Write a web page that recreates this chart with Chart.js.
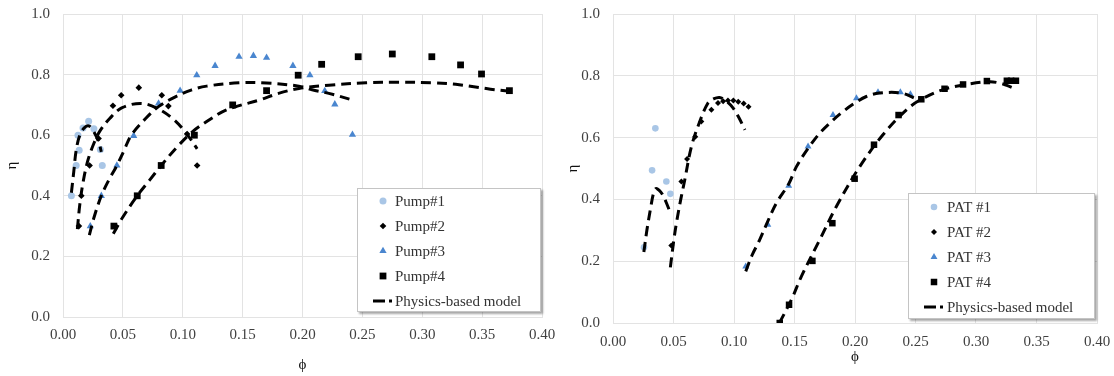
<!DOCTYPE html>
<html>
<head>
<meta charset="utf-8">
<script src="https://cdn.jsdelivr.net/npm/chart.js@4.4.1/dist/chart.umd.min.js"></script>
<style>
  html, body { margin: 0; padding: 0; background: #fff; }
  #wrap { position: relative; width: 1114px; height: 376px; }
  .panel { position: absolute; top: 0; width: 557px; height: 376px; }
</style>
</head>
<body>
<div id="wrap">
  <div class="panel" style="left:0"><canvas id="pump-chart"></canvas></div>
  <div class="panel" style="left:557px"><canvas id="pat-chart"></canvas></div>
</div>
<script>
/* ---------- axis ticks ---------- */
const PHI_TICKS = [0, 0.05, 0.10, 0.15, 0.20, 0.25, 0.30, 0.35, 0.40];
const ETA_TICKS = [0, 0.2, 0.4, 0.6, 0.8, 1.0];

/* ---------- pump mode: measured points [phi, eta] ---------- */
const PUMP1 = [[0.007,0.40],[0.011,0.50],[0.0135,0.55],[0.0125,0.60],[0.0167,0.624],[0.0214,0.646],[0.0258,0.621],[0.0312,0.553],[0.0328,0.50]];
const PUMP2 = [[0.0133,0.30],[0.0153,0.40],[0.0222,0.50],[0.0297,0.589],[0.0417,0.697],[0.0486,0.732],[0.0633,0.757],[0.0825,0.732],[0.088,0.696],[0.1037,0.604],[0.112,0.50]];
const PUMP3 = [[0.0228,0.30],[0.032,0.40],[0.045,0.50],[0.059,0.598],[0.0798,0.705],[0.0978,0.747],[0.1117,0.798],[0.127,0.829],[0.147,0.859],[0.159,0.862],[0.170,0.856],[0.192,0.829],[0.2062,0.798],[0.2186,0.746],[0.227,0.702],[0.2417,0.602]];
const PUMP4 = [[0.0425,0.30],[0.062,0.40],[0.082,0.50],[0.1097,0.60],[0.1417,0.70],[0.170,0.747],[0.1964,0.798],[0.216,0.834],[0.2465,0.859],[0.275,0.868],[0.308,0.859],[0.332,0.832],[0.3495,0.802],[0.3728,0.747]];

/* ---------- pump mode: physics-based model curves ---------- */
const PUMP1_MODEL = [[0.007,0.41],[0.009,0.48],[0.011,0.55],[0.014,0.60],[0.018,0.625],[0.022,0.63],[0.026,0.61],[0.030,0.575],[0.032,0.545]];
const PUMP2_MODEL = [[0.012,0.29],[0.014,0.37],[0.017,0.45],[0.021,0.52],[0.026,0.575],[0.031,0.615],[0.039,0.655],[0.049,0.69],[0.065,0.705],[0.079,0.688],[0.093,0.65],[0.103,0.606],[0.112,0.555]];
const PUMP3_MODEL = [[0.022,0.27],[0.026,0.33],[0.032,0.40],[0.038,0.45],[0.045,0.50],[0.051,0.55],[0.057,0.60],[0.069,0.655],[0.080,0.695],[0.093,0.725],[0.107,0.749],[0.120,0.762],[0.147,0.773],[0.170,0.772],[0.197,0.762],[0.208,0.75],[0.222,0.738],[0.242,0.716]];
const PUMP4_MODEL = [[0.042,0.275],[0.050,0.33],[0.062,0.40],[0.072,0.45],[0.082,0.50],[0.095,0.56],[0.108,0.611],[0.120,0.645],[0.133,0.677],[0.145,0.695],[0.164,0.716],[0.180,0.738],[0.197,0.754],[0.222,0.765],[0.253,0.773],[0.280,0.775],[0.310,0.773],[0.328,0.768],[0.343,0.76],[0.357,0.752],[0.373,0.745]];

/* ---------- turbine mode (PAT): measured points ---------- */
const PAT1 = [[0.035,0.630],[0.0323,0.494],[0.0441,0.458],[0.0474,0.418],[0.0256,0.245]];
const PAT2 = [[0.0482,0.251],[0.0565,0.458],[0.0612,0.531],[0.068,0.603],[0.073,0.652],[0.0813,0.69],[0.0868,0.712],[0.091,0.718],[0.095,0.72],[0.0995,0.72],[0.1035,0.716],[0.108,0.71],[0.112,0.70]];
const PAT3 = [[0.1097,0.183],[0.128,0.318],[0.1452,0.444],[0.1612,0.571],[0.1818,0.673],[0.2012,0.727],[0.219,0.747],[0.2375,0.747],[0.2458,0.74]];
const PAT4 = [[0.1378,0.0],[0.1455,0.059],[0.1648,0.201],[0.1813,0.323],[0.1997,0.467],[0.2157,0.577],[0.236,0.673],[0.2548,0.724],[0.274,0.758],[0.2893,0.772],[0.309,0.783],[0.3255,0.784],[0.329,0.784],[0.333,0.784]];

/* ---------- turbine mode (PAT): physics-based model curves ---------- */
const PAT1_MODEL = [[0.0255,0.23],[0.028,0.30],[0.031,0.37],[0.0335,0.42],[0.0355,0.435],[0.038,0.43],[0.041,0.415],[0.044,0.39],[0.047,0.36]];
const PAT2_MODEL = [[0.0474,0.18],[0.050,0.26],[0.0524,0.323],[0.056,0.40],[0.0593,0.463],[0.0648,0.571],[0.0717,0.652],[0.0785,0.712],[0.083,0.725],[0.088,0.73],[0.093,0.72],[0.099,0.697],[0.104,0.665],[0.109,0.625]];
const PAT3_MODEL = [[0.1097,0.167],[0.115,0.22],[0.1212,0.269],[0.128,0.33],[0.135,0.388],[0.1452,0.45],[0.1516,0.506],[0.1612,0.565],[0.1708,0.614],[0.180,0.65],[0.190,0.684],[0.200,0.712],[0.2094,0.733],[0.220,0.744],[0.2384,0.744],[0.2507,0.725]];
const PAT4_MODEL = [[0.1375,0.0],[0.1474,0.075],[0.1557,0.151],[0.1708,0.269],[0.1846,0.377],[0.2039,0.506],[0.2231,0.609],[0.2425,0.69],[0.2548,0.724],[0.274,0.757],[0.2948,0.774],[0.3113,0.781],[0.320,0.776],[0.326,0.768],[0.333,0.757]];

const COLORS = {
  light: '#a9c6e6',
  blue: '#4a86cf',
  black: '#000000',
  grid: '#e3e3e3',
  tick: '#404040',
  legendText: '#333333'
};
const FONT = '"Liberation Serif", "Times New Roman", serif';

Chart.defaults.font.family = FONT;
Chart.defaults.font.size = 15;
Chart.defaults.color = COLORS.tick;

const toXY = arr => arr.map(p => ({ x: p[0], y: p[1] }));

function markers(label, data, style, color, radius) {
  return {
    label, data: toXY(data), showLine: false, order: 1,
    pointStyle: style, pointRadius: radius, pointHoverRadius: radius,
    backgroundColor: color, borderColor: color, pointBorderWidth: 0
  };
}

function model(data, inLegend) {
  return {
    label: 'Physics-based model', data: toXY(data), showLine: true, order: 0,
    inLegend: inLegend, pointRadius: 0, pointHoverRadius: 0,
    borderColor: COLORS.black, backgroundColor: COLORS.black,
    borderWidth: 3, borderDash: [10, 6], tension: 0.35, fill: false
  };
}

// legend drawn inside the plot, Excel style box with shadow
const boxLegend = {
  id: 'boxLegend',
  afterDraw(chart, args, opts) {
    const ctx = chart.ctx;
    const { x, y, width, height, firstRow, rowHeight, markerX, textX } = opts;
    ctx.save();
    ctx.shadowColor = 'rgba(0,0,0,0.35)';
    ctx.shadowOffsetX = 2;
    ctx.shadowOffsetY = 2;
    ctx.shadowBlur = 2;
    ctx.fillStyle = '#fff';
    ctx.fillRect(x, y, width, height);
    ctx.shadowColor = 'transparent';
    ctx.strokeStyle = '#c4c4c4';
    ctx.lineWidth = 1;
    ctx.strokeRect(x + 0.5, y + 0.5, width - 1, height - 1);

    const items = chart.data.datasets.filter(d => d.inLegend !== false);
    ctx.font = '15px ' + FONT;
    ctx.textBaseline = 'middle';
    ctx.textAlign = 'left';
    items.forEach((ds, i) => {
      const cy = y + firstRow + i * rowHeight;
      if (ds.showLine) {
        ctx.strokeStyle = ds.borderColor;
        ctx.lineWidth = 3;
        ctx.setLineDash([12, 4]);
        ctx.beginPath();
        ctx.moveTo(x + markerX - 10, cy);
        ctx.lineTo(x + markerX + 9, cy);
        ctx.stroke();
        ctx.setLineDash([]);
      } else {
        ctx.fillStyle = ds.backgroundColor;
        Chart.helpers.drawPoint(ctx, { pointStyle: ds.pointStyle, radius: ds.pointRadius, borderWidth: 0, rotation: 0 }, x + markerX, cy);
      }
      ctx.fillStyle = COLORS.legendText;
      ctx.fillText(ds.label, x + textX, cy + 1);
    });
    ctx.restore();
  }
};

function makeChart(id, datasets, geom) {
  return new Chart(document.getElementById(id), {
    type: 'scatter',
    data: { datasets },
    plugins: [boxLegend],
    options: {
      responsive: true,
      maintainAspectRatio: false,
      animation: false,
      events: [],
      layout: { padding: { left: 0, right: geom.padRight, top: geom.padTop, bottom: 0 } },
      plugins: {
        legend: { display: false },
        tooltip: { enabled: false },
        boxLegend: geom.legend
      },
      scales: {
        x: {
          type: 'linear', min: 0, max: 0.4,
          afterBuildTicks: s => { s.ticks = PHI_TICKS.map(v => ({ value: v })); },
          afterFit: s => { s.height = geom.xHeight; },
          // invisible tick marks give the label offset without widening the layout padding
          ticks: { callback: v => Number(v).toFixed(2), padding: 0, maxRotation: 0, autoSkip: false },
          grid: { color: COLORS.grid, drawTicks: true, tickLength: geom.xTickPad, tickColor: 'rgba(0,0,0,0)' },
          border: { color: COLORS.grid },
          title: { display: true, text: 'ϕ', color: '#111', padding: { top: 0, bottom: geom.xTitlePad } }
        },
        y: {
          type: 'linear', min: 0, max: 1,
          afterBuildTicks: s => { s.ticks = ETA_TICKS.map(v => ({ value: v })); },
          afterFit: s => { s.width = geom.yWidth; },
          ticks: { callback: v => Number(v).toFixed(1), padding: 0 },
          grid: { color: COLORS.grid, drawTicks: true, tickLength: 13, tickColor: 'rgba(0,0,0,0)' },
          border: { color: COLORS.grid },
          title: { display: true, text: 'η', color: '#111', padding: { top: geom.yTitlePad, bottom: 0 } }
        }
      }
    }
  });
}

makeChart('pump-chart', [
  markers('Pump#1', PUMP1, 'circle', COLORS.light, 3.5),
  markers('Pump#2', PUMP2, 'rectRot', COLORS.black, 3.3),
  markers('Pump#3', PUMP3, 'triangle', COLORS.blue, 4.2),
  markers('Pump#4', PUMP4, 'rect', COLORS.black, 4.8),
  model(PUMP1_MODEL, true),
  model(PUMP2_MODEL, false),
  model(PUMP3_MODEL, false),
  model(PUMP4_MODEL, false)
], {
  padRight: 15, padTop: 14, xHeight: 59, xTickPad: 9, xTitlePad: 2, yWidth: 63, yTitlePad: 3,
  legend: { x: 357, y: 188, width: 184, height: 124, firstRow: 13, rowHeight: 25, markerX: 26, textX: 38 }
});

makeChart('pat-chart', [
  markers('PAT #1', PAT1, 'circle', COLORS.light, 3.3),
  markers('PAT #2', PAT2, 'rectRot', COLORS.black, 3),
  markers('PAT #3', PAT3, 'triangle', COLORS.blue, 4),
  markers('PAT #4', PAT4, 'rect', COLORS.black, 4.6),
  model(PAT1_MODEL, true),
  model(PAT2_MODEL, false),
  model(PAT3_MODEL, false),
  model(PAT4_MODEL, false)
], {
  padRight: 17, padTop: 14, xHeight: 53, xTickPad: 10, xTitlePad: 10, yWidth: 56, yTitlePad: 7,
  legend: { x: 351, y: 193, width: 187, height: 126, firstRow: 14, rowHeight: 25, markerX: 26, textX: 39 }
});
</script>
</body>
</html>
